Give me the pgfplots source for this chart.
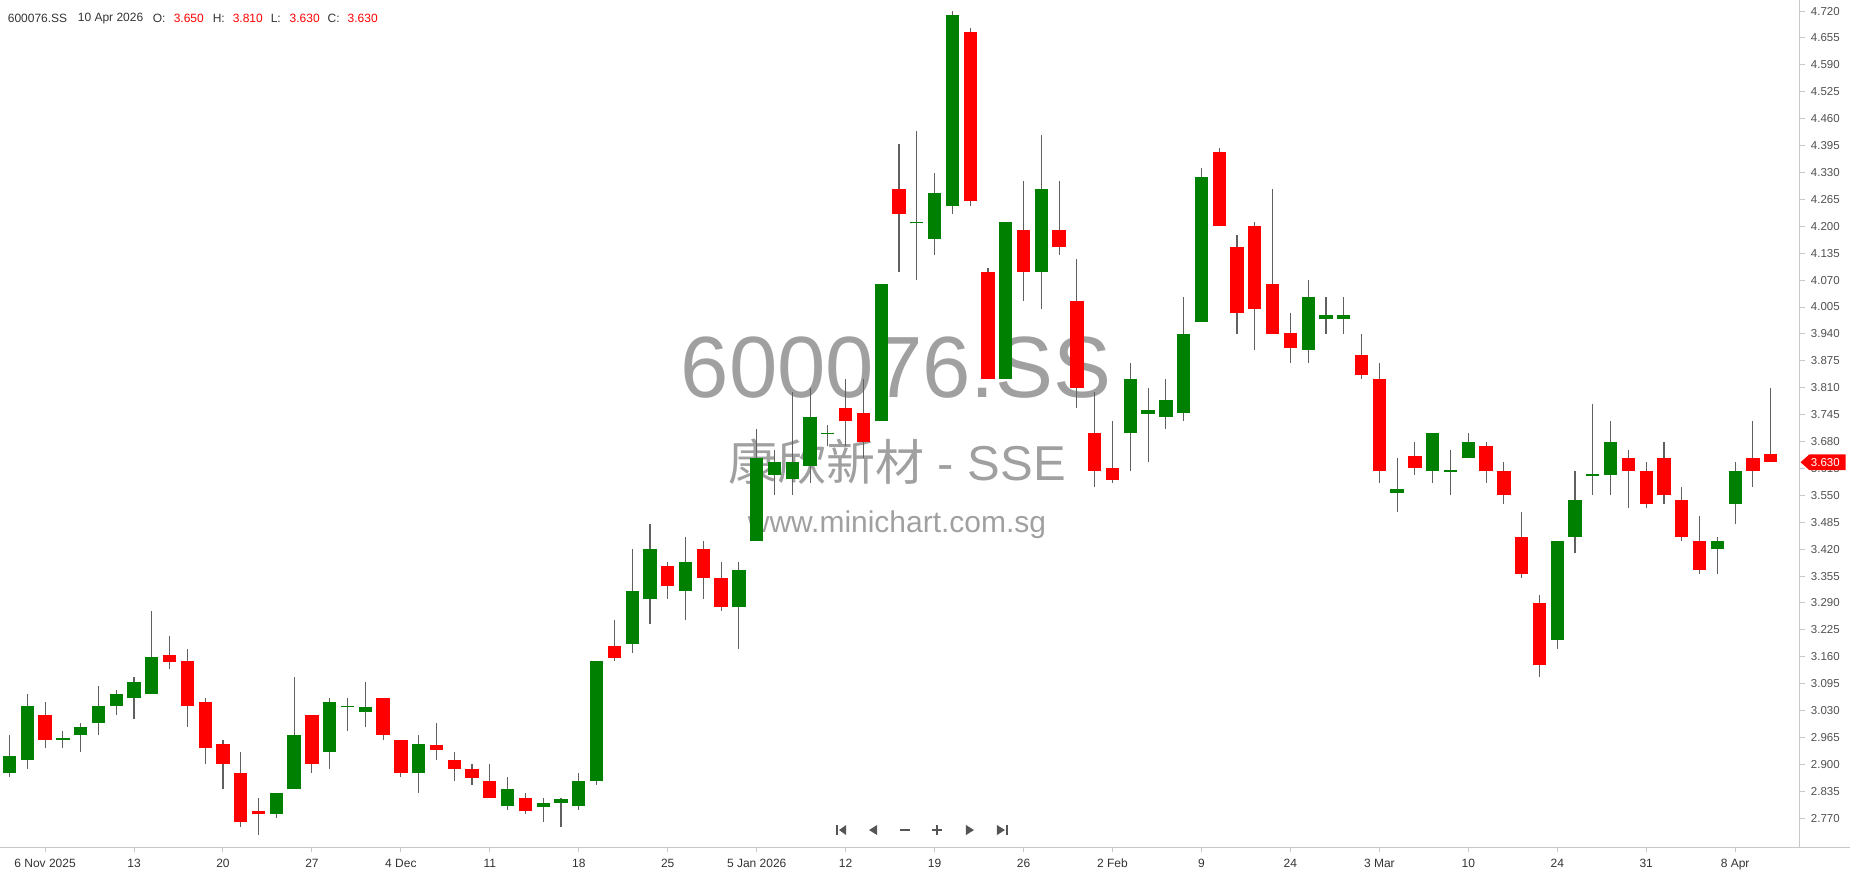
\documentclass[border=0pt]{standalone}
\usepackage{fontspec}
\setmainfont{Liberation Sans}
\newfontfamily\cjk{Noto Sans CJK SC}
\usepackage{pgfplots}
\pgfplotsset{compat=1.18}
\usepackage{pgfplotstable}
\definecolor{upg}{RGB}{0,128,0}
\definecolor{dnr}{RGB}{255,0,0}
\definecolor{wickc}{RGB}{96,96,96}
\definecolor{axg}{RGB}{200,200,200}
\definecolor{lblc}{RGB}{80,80,80}
\definecolor{hdrc}{RGB}{51,51,51}
\definecolor{wmc}{RGB}{160,160,160}
\definecolor{navc}{RGB}{85,85,85}

\pgfplotstableread{
i O H L C
0 2.88 2.97 2.87 2.92
1 2.91 3.07 2.89 3.04
3 2.958 2.98 2.94 2.965
4 2.97 3.00 2.93 2.99
5 3.00 3.09 2.97 3.04
6 3.04 3.08 3.02 3.07
7 3.06 3.11 3.01 3.10
8 3.07 3.27 3.07 3.16
15 2.78 2.83 2.77 2.83
16 2.84 3.11 2.84 2.97
18 2.93 3.06 2.89 3.05
19 3.04 3.06 2.98 3.04
20 3.027 3.10 2.99 3.038
23 2.88 2.97 2.83 2.95
28 2.80 2.87 2.79 2.84
30 2.798 2.82 2.76 2.806
31 2.807 2.82 2.75 2.817
32 2.80 2.88 2.79 2.86
33 2.86 3.15 2.85 3.15
35 3.19 3.42 3.17 3.32
36 3.30 3.48 3.24 3.42
38 3.32 3.45 3.25 3.39
41 3.28 3.39 3.18 3.37
42 3.44 3.71 3.44 3.64
43 3.60 3.66 3.55 3.63
44 3.59 3.80 3.55 3.63
45 3.62 3.81 3.58 3.74
46 3.70 3.72 3.67 3.70
49 3.73 4.06 3.73 4.06
51 4.21 4.43 4.07 4.21
52 4.17 4.33 4.13 4.28
53 4.25 4.72 4.23 4.71
56 3.83 4.21 3.83 4.21
58 4.09 4.42 4.00 4.29
63 3.70 3.87 3.61 3.83
64 3.746 3.81 3.63 3.756
65 3.74 3.83 3.71 3.78
66 3.75 4.03 3.73 3.94
67 3.97 4.34 3.97 4.32
73 3.90 4.07 3.87 4.03
74 3.975 4.03 3.94 3.985
75 3.975 4.03 3.94 3.985
78 3.556 3.64 3.51 3.565
80 3.61 3.70 3.58 3.70
81 3.61 3.66 3.55 3.61
82 3.64 3.70 3.64 3.68
87 3.20 3.44 3.18 3.44
88 3.45 3.61 3.41 3.54
89 3.60 3.77 3.55 3.60
90 3.60 3.73 3.55 3.68
96 3.42 3.45 3.36 3.44
97 3.53 3.63 3.48 3.61
}\upTab

\pgfplotstableread{
i O H L C
2 3.02 3.05 2.94 2.96
9 3.165 3.21 3.13 3.148
10 3.15 3.18 2.99 3.04
11 3.05 3.06 2.90 2.94
12 2.95 2.96 2.84 2.90
13 2.88 2.93 2.75 2.76
14 2.788 2.82 2.73 2.779
17 3.02 3.02 2.88 2.90
21 3.06 3.06 2.96 2.97
22 2.96 2.96 2.87 2.88
24 2.947 3.00 2.91 2.936
25 2.91 2.93 2.86 2.89
26 2.888 2.90 2.85 2.868
27 2.86 2.90 2.82 2.82
29 2.818 2.83 2.78 2.788
34 3.187 3.25 3.15 3.157
37 3.38 3.39 3.30 3.33
39 3.42 3.44 3.30 3.35
40 3.35 3.39 3.27 3.28
47 3.76 3.83 3.67 3.73
48 3.75 3.83 3.64 3.68
50 4.29 4.40 4.09 4.23
54 4.67 4.68 4.25 4.26
55 4.09 4.10 3.83 3.83
57 4.19 4.31 4.02 4.09
59 4.19 4.31 4.13 4.15
60 4.02 4.12 3.76 3.81
61 3.70 3.80 3.57 3.61
62 3.615 3.73 3.58 3.587
68 4.38 4.39 4.20 4.20
69 4.15 4.18 3.94 3.99
70 4.20 4.21 3.90 4.00
71 4.06 4.29 3.94 3.94
72 3.943 3.99 3.87 3.905
76 3.89 3.94 3.83 3.84
77 3.83 3.87 3.58 3.61
79 3.645 3.68 3.60 3.615
83 3.67 3.68 3.58 3.61
84 3.61 3.63 3.53 3.55
85 3.45 3.51 3.35 3.36
86 3.29 3.31 3.11 3.14
91 3.64 3.66 3.52 3.61
92 3.61 3.63 3.52 3.53
93 3.64 3.68 3.53 3.55
94 3.54 3.57 3.44 3.45
95 3.44 3.50 3.36 3.37
98 3.64 3.73 3.57 3.61
99 3.65 3.81 3.63 3.63
}\dnTab

\begin{document}
\begin{tikzpicture}
\path (0pt,0pt) rectangle (925pt,437pt);

\node[text=wmc, anchor=base, inner sep=0pt, font=\fontsize{43.5}{45}\selectfont] at (448pt,238.5pt) {600076.SS};
\node[text=wmc, anchor=base, inner sep=0pt, font=\fontsize{24.5}{26}\selectfont] at (448.5pt,197pt) {{\cjk 康欣新材} - SSE};
\node[text=wmc, anchor=base, inner sep=0pt, font=\fontsize{15}{16}\selectfont] at (448.5pt,171pt) {www.minichart.com.sg};

\begin{axis}[
  at={(0pt,13.5pt)}, anchor=south west,
  scale only axis, width=900pt, height=423.5pt,
  xmin=-0.506, xmax=100.62, ymin=2.7004, ymax=4.7456,
  axis x line*=bottom, axis y line*=right,
  axis line style={draw=axg, line width=0.5pt, -},
  xtick={2,7,...,97},
  xticklabels={6 Nov 2025,13,20,27,4 Dec,11,18,25,5 Jan 2026,12,19,26,2 Feb,9,24,3 Mar,10,24,31,8 Apr},
  ytick={2.770,2.835,2.900,2.965,3.030,3.095,3.160,3.225,3.290,3.355,3.420,3.485,3.550,3.615,3.680,3.745,3.810,3.875,3.940,4.005,4.070,4.135,4.200,4.265,4.330,4.395,4.460,4.525,4.590,4.655,4.720},
  yticklabels={2.770,2.835,2.900,2.965,3.030,3.095,3.160,3.225,3.290,3.355,3.420,3.485,3.550,3.615,3.680,3.745,3.810,3.875,3.940,4.005,4.070,4.135,4.200,4.265,4.330,4.395,4.460,4.525,4.590,4.655,4.720},
  tick align=outside,
  major tick length=2.5pt,
  tick style={draw=axg, line width=0.5pt},
  xticklabel style={font=\fontsize{6}{7}\selectfont, text=hdrc, anchor=north, inner sep=0pt, text height=4.6pt, text depth=1.3pt, yshift=-3pt},
  yticklabel style={font=\fontsize{5.75}{6.5}\selectfont, text=lblc, anchor=west, inner sep=0pt, xshift=3pt},
]
\addplot[draw=none, mark=none, error bars/.cd, y dir=both, y explicit, error mark=none,
  error bar style={line width=0.55pt, draw=wickc}]
  table[x=i, y expr={(\thisrow{H}+\thisrow{L})/2}, y error expr={(\thisrow{H}-\thisrow{L})/2}] {\upTab};
\addplot[draw=none, mark=none, error bars/.cd, y dir=both, y explicit, error mark=none,
  error bar style={line width=0.55pt, draw=wickc}]
  table[x=i, y expr={(\thisrow{H}+\thisrow{L})/2}, y error expr={(\thisrow{H}-\thisrow{L})/2}] {\dnTab};
\addplot[draw=none, mark=none, error bars/.cd, y dir=both, y explicit, error mark=none,
  error bar style={line width=6.65pt, draw=upg}]
  table[x=i, y expr={(\thisrow{O}+\thisrow{C})/2}, y error expr={max(abs(\thisrow{C}-\thisrow{O})/2,0.0013)}] {\upTab};
\addplot[draw=none, mark=none, error bars/.cd, y dir=both, y explicit, error mark=none,
  error bar style={line width=6.65pt, draw=dnr}]
  table[x=i, y expr={(\thisrow{O}+\thisrow{C})/2}, y error expr={max(abs(\thisrow{C}-\thisrow{O})/2,0.0013)}] {\dnTab};
\coordinate (pm) at (axis cs:100.62,3.630);
\end{axis}

\draw[axg, line width=0.5pt] (900pt,13.5pt) -- (925pt,13.5pt);

\fill[dnr] ([xshift=0.5pt]pm) -- ([xshift=5pt,yshift=4pt]pm) -- ([xshift=23pt,yshift=4pt]pm) -- ([xshift=23pt,yshift=-4pt]pm) -- ([xshift=5pt,yshift=-4pt]pm) -- cycle;
\node[text=white, font=\fontsize{5.75}{6.5}\selectfont, anchor=west, inner sep=0pt] at ([xshift=5.5pt]pm) {3.630};

\begin{scope}[every node/.style={anchor=west, inner sep=0pt, font=\fontsize{6}{7}\selectfont}]
\node[text=hdrc] at (3.5pt,428pt) {600076.SS};
\node[text=hdrc] at (38.5pt,428pt) {10 Apr 2026};
\node[text=hdrc] at (76pt,428pt) {O:};
\node[text=dnr] at (86.5pt,428pt) {3.650};
\node[text=hdrc] at (106pt,428pt) {H:};
\node[text=dnr] at (116pt,428pt) {3.810};
\node[text=hdrc] at (135pt,428pt) {L:};
\node[text=dnr] at (144.5pt,428pt) {3.630};
\node[text=hdrc] at (163.5pt,428pt) {C:};
\node[text=dnr] at (173.5pt,428pt) {3.630};
\end{scope}

\fill[navc] (418pt,19.5pt) rectangle (419pt,24.5pt);
\fill[navc] (423pt,19.5pt) -- (423pt,24.5pt) -- (419.5pt,22pt) -- cycle;
\fill[navc] (438.5pt,19.5pt) -- (438.5pt,24.5pt) -- (434.5pt,22pt) -- cycle;
\fill[navc] (450pt,21.6pt) rectangle (455pt,22.4pt);
\fill[navc] (466pt,21.6pt) rectangle (471pt,22.4pt);
\fill[navc] (468.1pt,19.5pt) rectangle (468.9pt,24.5pt);
\fill[navc] (483pt,19.5pt) -- (483pt,24.5pt) -- (487pt,22pt) -- cycle;
\fill[navc] (498.5pt,19.5pt) -- (498.5pt,24.5pt) -- (502.5pt,22pt) -- cycle;
\fill[navc] (503pt,19.5pt) rectangle (504pt,24.5pt);
\end{tikzpicture}
\end{document}
